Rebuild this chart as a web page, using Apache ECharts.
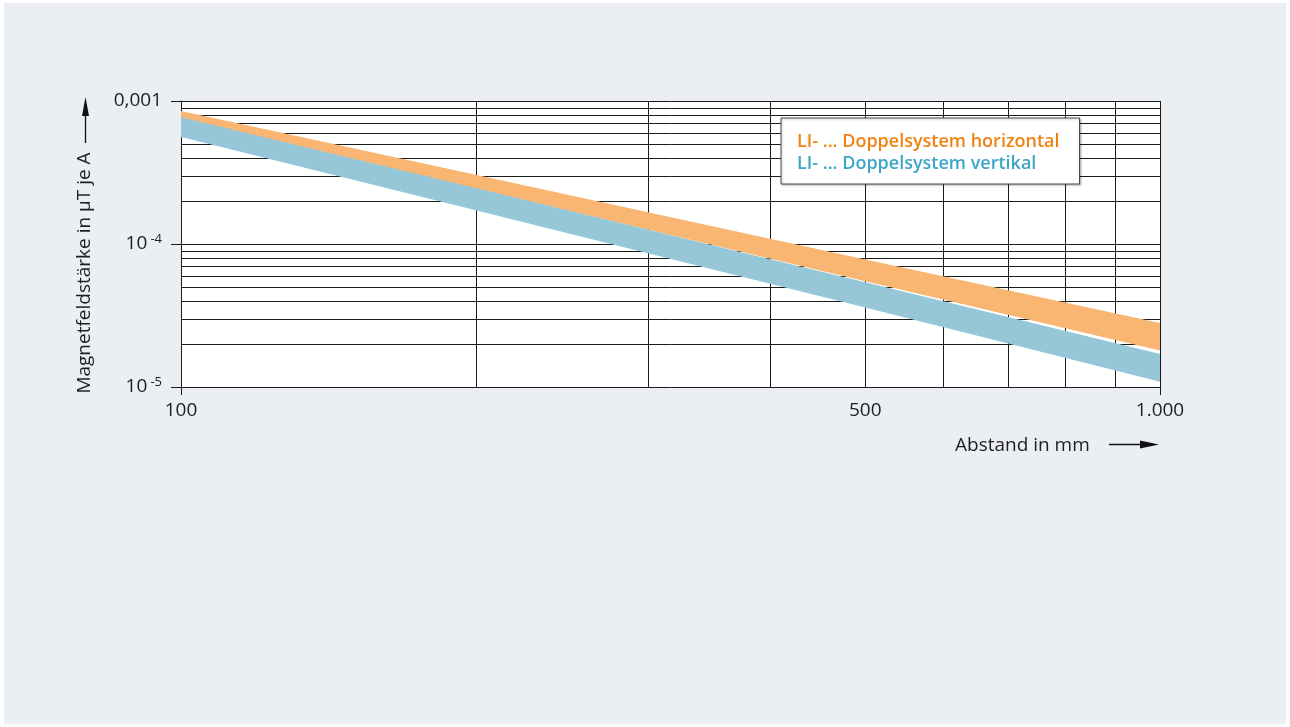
<!DOCTYPE html>
<html>
<head>
<meta charset="utf-8">
<script src="https://cdn.jsdelivr.net/npm/echarts@6/dist/echarts.min.js"></script>
<style>
  html, body { margin: 0; padding: 0; background: #ffffff; }
  #chart { position: absolute; left: 4px; top: 3px; width: 1282px; height: 721px; }
</style>
</head>
<body>
<div id="chart"></div>
<script>
// ---- data ----
const distances = [100, 200, 500, 1000];                      // Abstand in mm
const horizUpper = [8.5e-4, 3.05e-4, 7.8e-5, 2.8e-5];         // LI- ... Doppelsystem horizontal (upper edge)
const horizLower = [7.4e-4, 2.43e-4, 5.5e-5, 1.8e-5];         // LI- ... Doppelsystem horizontal (lower edge)
const vertUpper  = [7.7e-4, 2.46e-4, 5.4e-5, 1.7e-5];         // LI- ... Doppelsystem vertikal (upper edge)
const vertLower  = [5.6e-4, 1.72e-4, 3.6e-5, 1.09e-5];        // LI- ... Doppelsystem vertikal (lower edge)

const xGridValues = [200, 300, 400, 500, 600, 700, 800, 900, 1000];
const yGridValues = [2e-5, 3e-5, 4e-5, 5e-5, 6e-5, 7e-5, 8e-5, 9e-5, 1e-4,
                     2e-4, 3e-4, 4e-4, 5e-4, 6e-4, 7e-4, 8e-4, 9e-4, 1e-3];
const xLabelValues = [100, 500, 1000];
const xLabelTexts = { 100: '100', 500: '500', 1000: '1.000' };
const yLabelTexts = { '-5': '{b|10} {s|-5}', '-4': '{b|10} {s|-4}', '-3': '{b|0,001}' };

const seriesNames = ['LI- ... Doppelsystem horizontal', 'LI- ... Doppelsystem vertikal'];

const X_MIN = 100, X_MAX = 1000, Y_MIN = 1e-5, Y_MAX = 1e-3;
const FONT = '"Open Sans", "Noto Sans", sans-serif';
const TEXT = '#1e1e1e';
const GRID_COLOR = '#1a1a1a';

function bandSeries(name, upper, lower, color) {
  return {
    type: 'custom',
    name: name,
    coordinateSystem: 'cartesian2d',
    z: 10,
    silent: true,
    itemStyle: { color: color },
    data: distances.map((d, i) => [d, upper[i], lower[i]]),
    encode: { x: 0, y: [1, 2] },
    renderItem: function (params, api) {
      if (params.dataIndex !== 0) return null;
      const pts = [];
      for (let i = 0; i < distances.length; i++) pts.push(api.coord([distances[i], upper[i]]));
      for (let i = distances.length - 1; i >= 0; i--) pts.push(api.coord([distances[i], lower[i]]));
      return { type: 'polygon', shape: { points: pts }, style: { fill: color } };
    }
  };
}

const crisp = v => Math.round(v) + 0.5;

const chart = echarts.init(document.getElementById('chart'), null, { renderer: 'canvas' });
chart.setOption({
  animation: false,
  backgroundColor: '#ebeef3',
  textStyle: { fontFamily: FONT },
  grid: { left: 177, right: 126, top: 98, bottom: 337, show: true, backgroundColor: '#ffffff', borderWidth: 0 },
  xAxis: {
    type: 'log', logBase: 10, min: X_MIN, max: X_MAX,
    axisLine: { show: true, onZero: false, lineStyle: { color: GRID_COLOR, width: 1 } },
    axisTick: { show: true, length: 8, inside: false, customValues: [100, 1000], lineStyle: { color: GRID_COLOR } },
    splitLine: { show: false },
    minorTick: { show: false },
    axisLabel: {
      customValues: xLabelValues,
      margin: 14, fontSize: 19, color: TEXT, fontFamily: FONT,
      formatter: v => xLabelTexts[Math.round(v)] || ''
    }
  },
  yAxis: {
    type: 'log', logBase: 10, min: Y_MIN, max: Y_MAX,
    axisLine: { show: true, lineStyle: { color: GRID_COLOR, width: 1 } },
    axisTick: { show: true, length: 10, lineStyle: { color: GRID_COLOR } },
    splitLine: { show: false },
    axisLabel: {
      margin: 19, color: TEXT, fontFamily: FONT,
      formatter: v => yLabelTexts[String(Math.round(Math.log10(v)))] || '',
      rich: {
        b: { fontSize: 19, color: TEXT, fontFamily: FONT },
        s: { fontSize: 13, color: TEXT, fontFamily: FONT, padding: [0, 0, 10, 0] }
      }
    }
  },
  legend: {
    data: [
      { name: seriesNames[0], textStyle: { color: '#f0820f' } },
      { name: seriesNames[1], textStyle: { color: '#3ba6c6' } }
    ],
    orient: 'vertical',
    left: 777, top: 115,
    icon: 'rect', itemWidth: 0, itemHeight: 0, itemGap: 0,
    padding: [13, 20, 9, 11],
    backgroundColor: '#ffffff',
    borderColor: '#4a4a4a', borderWidth: 1,
    shadowColor: 'rgba(0,0,0,0.25)', shadowBlur: 2, shadowOffsetX: 1, shadowOffsetY: 1,
    selectedMode: false,
    textStyle: { fontSize: 18, fontWeight: 600, fontFamily: FONT, lineHeight: 22 }
  },
  graphic: [
    { type: 'text', x: 81, y: 270, rotation: Math.PI / 2,
      style: { text: 'Magnetfeldstärke in µT je A', fill: TEXT, font: '19px ' + FONT, align: 'center', verticalAlign: 'middle' } },
    { type: 'line', shape: { x1: 81.5, y1: 140, x2: 81.5, y2: 110 }, style: { stroke: '#111', lineWidth: 1.3 } },
    { type: 'polygon', shape: { points: [[81.5, 94], [78, 113], [85, 113]] }, style: { fill: '#111' } },
    { type: 'text', x: 951, y: 443,
      style: { text: 'Abstand in mm', fill: TEXT, font: '19px ' + FONT, align: 'left', verticalAlign: 'middle' } },
    { type: 'line', shape: { x1: 1105, y1: 441.5, x2: 1140, y2: 441.5 }, style: { stroke: '#111', lineWidth: 1.3 } },
    { type: 'polygon', shape: { points: [[1155, 441.5], [1136, 437.5], [1136, 445.5]] }, style: { fill: '#111' } }
  ],
  series: [
    {
      type: 'custom', name: 'xgrid', coordinateSystem: 'cartesian2d', z: 1, silent: true,
      data: xGridValues.map(v => [v, Y_MIN]),
      encode: { x: 0, y: 1 },
      renderItem: function (params, api) {
        const v = api.value(0);
        const p1 = api.coord([v, Y_MIN]), p2 = api.coord([v, Y_MAX]);
        const x = crisp(p1[0]);
        return { type: 'line', shape: { x1: x, y1: p1[1], x2: x, y2: p2[1] }, style: { stroke: GRID_COLOR, lineWidth: 1 } };
      }
    },
    {
      type: 'custom', name: 'ygrid', coordinateSystem: 'cartesian2d', z: 1, silent: true,
      data: yGridValues.map(v => [X_MIN, v]),
      encode: { x: 0, y: 1 },
      renderItem: function (params, api) {
        const v = api.value(1);
        const p1 = api.coord([X_MIN, v]), p2 = api.coord([X_MAX, v]);
        const y = crisp(p1[1]);
        return { type: 'line', shape: { x1: p1[0], y1: y, x2: p2[0], y2: y }, style: { stroke: GRID_COLOR, lineWidth: 1 } };
      }
    },
    bandSeries(seriesNames[0], horizUpper, horizLower, '#f8b672'),
    bandSeries(seriesNames[1], vertUpper, vertLower, '#96c7d8')
  ]
});
</script>
</body>
</html>
